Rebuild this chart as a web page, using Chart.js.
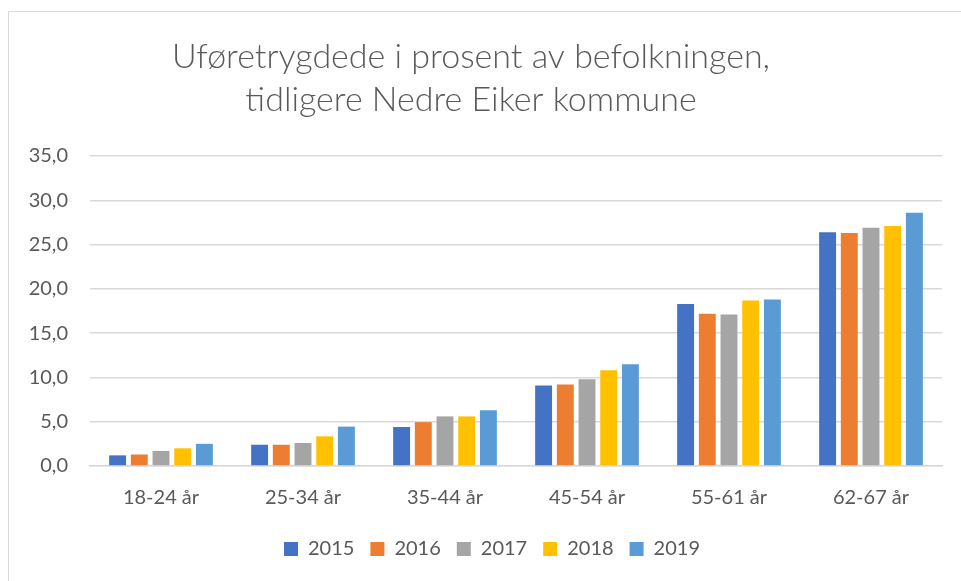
<!DOCTYPE html>
<html>
<head>
<meta charset="utf-8">
<script src="https://cdn.jsdelivr.net/npm/chart.js@4/dist/chart.umd.min.js"></script>
<style>
  html, body { margin: 0; padding: 0; background: #ffffff; }
  #wrap { position: relative; width: 961px; height: 581px; overflow: hidden; }
  #frame { position: absolute; left: 8px; top: 11px; width: 1000px; height: 1000px;
           border-left: 1px solid #d9d9d9; border-top: 1px solid #d9d9d9; }
  canvas { position: absolute; left: 0; top: 0; }
</style>
</head>
<body>
<div id="wrap">
  <div id="frame"></div>
  <canvas id="c" width="961" height="581"></canvas>
</div>
<script>
const categories = ['18-24 år', '25-34 år', '35-44 år', '45-54 år', '55-61 år', '62-67 år'];
const years = ['2015', '2016', '2017', '2018', '2019'];
const v2015 = [1.2, 2.4, 4.4, 9.1, 18.3, 26.4];
const v2016 = [1.3, 2.4, 4.95, 9.2, 17.2, 26.3];
const v2017 = [1.7, 2.6, 5.6, 9.8, 17.1, 26.9];
const v2018 = [2.0, 3.35, 5.6, 10.8, 18.7, 27.1];
const v2019 = [2.5, 4.45, 6.3, 11.5, 18.8, 28.6];
const colors = ['#4472C4', '#ED7D31', '#A5A5A5', '#FFC000', '#5B9BD5'];
const titleLines = ['Uføretrygdede i prosent av befolkningen,', 'tidligere Nedre Eiker kommune'];

const series = [v2015, v2016, v2017, v2018, v2019];
const datasets = years.map((y, i) => ({
  label: y,
  data: series[i],
  backgroundColor: colors[i],
  borderWidth: 0,
  categoryPercentage: 0.764,
  barPercentage: 0.78
}));

const legendShift = {
  id: 'legendShift',
  afterLayout(chart) {
    const lg = chart.legend;
    if (lg) { lg.left += 21; lg.right += 21; }
  }
};

new Chart(document.getElementById('c'), {
  type: 'bar',
  data: { labels: categories, datasets: datasets },
  plugins: [legendShift],
  options: {
    responsive: false,
    animation: false,
    devicePixelRatio: 1,
    layout: { padding: { left: 0, right: 19, top: 36, bottom: 12 } },
    plugins: {
      title: {
        display: true,
        text: titleLines,
        color: '#595959',
        font: { family: 'Lato', size: 34, weight: '300', lineHeight: 1.265 },
        padding: { top: 0, bottom: 34 }
      },
      legend: {
        position: 'bottom',
        labels: {
          color: '#595959',
          font: { family: 'Lato', size: 20 },
          boxWidth: 14, boxHeight: 14,
          padding: 16
        }
      },
      tooltip: { enabled: false }
    },
    scales: {
      x: {
        grid: { display: false },
        border: { display: true, color: '#d9d9d9', width: 1.5 },
        ticks: { color: '#595959', font: { family: 'Lato', size: 20 }, padding: 12 },
        afterFit: s => { s.height = 57; }
      },
      y: {
        min: 0, max: 35,
        border: { display: false },
        grid: { color: '#d9d9d9', lineWidth: 1.5, drawTicks: false },
        ticks: {
          stepSize: 5,
          color: '#595959',
          font: { family: 'Lato', size: 20 },
          padding: 22,
          callback: v => v.toFixed(1).replace('.', ',')
        },
        afterFit: s => { s.width = 90; }
      }
    }
  }
});
</script>
</body>
</html>
